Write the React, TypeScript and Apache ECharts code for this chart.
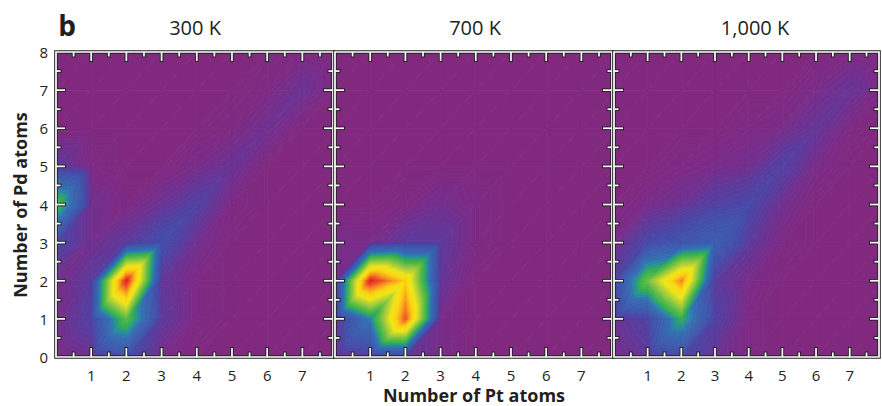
import React, { useEffect, useRef } from 'react';
import * as echarts from 'echarts';

// ---- data -------------------------------------------------------------
const PANEL_TITLES = ['300 K', '700 K', '1,000 K'];
const X_TICK_LABELS = ['1', '2', '3', '4', '5', '6', '7'];
const Y_TICK_LABELS = ['0', '1', '2', '3', '4', '5', '6', '7', '8'];
const X_NAME = 'Number of Pt atoms';
const Y_NAME = 'Number of Pd atoms';
const X_MAX = 7.87;
const Y_MAX = 8;
const X_MAJOR_TICKS = [1, 2, 3, 4, 5, 6, 7];
const X_MINOR_TICKS = [0.5, 1.5, 2.5, 3.5, 4.5, 5.5, 6.5, 7.5];
const Y_MAJOR_TICKS = [1, 2, 3, 4, 5, 6, 7];
const Y_MINOR_TICKS = [0.5, 1.5, 2.5, 3.5, 4.5, 5.5, 6.5, 7.5];

// relative population, rows = number of Pd atoms (0..8), columns = number of Pt atoms (0..8)
const GRID_300K = [
  [0.01, 0.03, 0.12, 0.02, 0.0, 0, 0, 0, 0],
  [0.02, 0.08, 0.45, 0.06, 0.01, 0, 0, 0, 0],
  [0.02, 0.06, 1.0, 0.05, 0.01, 0, 0, 0, 0],
  [0.1, 0.03, 0.06, 0.12, 0.03, 0, 0, 0, 0],
  [0.45, 0.03, 0.01, 0.04, 0.08, 0.01, 0, 0, 0],
  [0.06, 0.01, 0.0, 0.0, 0.02, 0.04, 0.0, 0, 0],
  [0.0, 0, 0, 0, 0, 0.01, 0.035, 0.0, 0],
  [0, 0, 0, 0, 0, 0, 0.01, 0.04, 0.0],
  [0, 0, 0, 0, 0, 0, 0, 0.01, 0],
];
const GRID_700K = [
  [0.02, 0.06, 0.06, 0.02, 0.0, 0, 0, 0, 0],
  [0.04, 0.3, 0.92, 0.02, 0.0, 0, 0, 0, 0],
  [0.02, 1.0, 0.75, 0.05, 0.0, 0, 0, 0, 0],
  [0.02, 0.02, 0.06, 0.06, 0.01, 0, 0, 0, 0],
  [0.0, 0.0, 0.01, 0.03, 0.01, 0, 0, 0, 0],
  [0, 0, 0, 0, 0, 0, 0, 0, 0],
  [0, 0, 0, 0, 0, 0, 0, 0, 0],
  [0, 0, 0, 0, 0, 0, 0, 0, 0],
  [0, 0, 0, 0, 0, 0, 0, 0, 0],
];
const GRID_1000K = [
  [0.02, 0.05, 0.1, 0.04, 0.01, 0, 0, 0, 0],
  [0.04, 0.08, 0.39, 0.08, 0.01, 0, 0, 0, 0],
  [0.08, 0.48, 0.86, 0.06, 0.02, 0, 0, 0, 0],
  [0.02, 0.1, 0.15, 0.2, 0.06, 0.01, 0, 0, 0],
  [0.0, 0.02, 0.04, 0.08, 0.1, 0.03, 0.0, 0, 0],
  [0, 0, 0.01, 0.02, 0.03, 0.08, 0.02, 0.0, 0],
  [0, 0, 0, 0, 0.01, 0.02, 0.05, 0.01, 0.0],
  [0, 0, 0, 0, 0, 0.0, 0.02, 0.045, 0.01],
  [0, 0, 0, 0, 0, 0, 0.0, 0.01, 0.0],
];
const PANEL_GRIDS = [GRID_300K, GRID_700K, GRID_1000K];

// colour scale: [value, colour]
const COLOR_STOPS: [number, string][] = [
  [0.0, '#80297f'],
  [0.015, '#7b2b86'],
  [0.035, '#6e3190'],
  [0.06, '#5c3a9c'],
  [0.1, '#4848a6'],
  [0.15, '#3f55ab'],
  [0.22, '#3a61af'],
  [0.28, '#336fb3'],
  [0.33, '#278f9c'],
  [0.38, '#30ad50'],
  [0.45, '#58ba46'],
  [0.55, '#a5cc3a'],
  [0.66, '#efe616'],
  [0.75, '#fcd50f'],
  [0.83, '#f8a01c'],
  [0.92, '#ee5424'],
  [1.0, '#e31e24'],
];

// ---- layout ------------------------------------------------------------
const GRID_LEFTS = [56, 335, 614];
const GRID_TOP = 52;
const GRID_W = 277;
const GRID_H = 305;
const FONT = '"Open Sans", "Noto Sans", sans-serif';
const TEXT = '#231f20';
const DARK = '#222222';

// ---- helpers -----------------------------------------------------------
function hexToRgb(h: string) {
  const n = parseInt(h.slice(1), 16);
  return [(n >> 16) & 255, (n >> 8) & 255, n & 255];
}
function colorAt(v: number) {
  if (v <= COLOR_STOPS[0][0]) return COLOR_STOPS[0][1];
  for (let k = 1; k < COLOR_STOPS.length; k++) {
    const [v1, c1] = COLOR_STOPS[k];
    if (v <= v1) {
      const [v0, c0] = COLOR_STOPS[k - 1];
      const s = (v - v0) / (v1 - v0);
      const a = hexToRgb(c0), b = hexToRgb(c1);
      const r = a.map((x, i) => Math.round(x + s * (b[i] - x)));
      return `rgb(${r[0]},${r[1]},${r[2]})`;
    }
  }
  return COLOR_STOPS[COLOR_STOPS.length - 1][1];
}

const N_LEVELS = 64;
const LEVELS: number[] = [];
for (let k = 0; k <= N_LEVELS; k++) LEVELS.push(Math.pow(k / N_LEVELS, 1.7));
const BAND_COLORS = LEVELS.map((lo, k) =>
  k + 1 < LEVELS.length ? colorAt((lo + LEVELS[k + 1]) / 2) : colorAt(lo)
);

type P = { x: number; y: number; v: number };
function clip(poly: P[], t: number, keepAbove: boolean): P[] {
  const out: P[] = [];
  const inside = (p: P) => (keepAbove ? p.v >= t : p.v <= t);
  for (let n = 0; n < poly.length; n++) {
    const a = poly[n], b = poly[(n + 1) % poly.length];
    const ia = inside(a), ib = inside(b);
    if (ia) out.push(a);
    if (ia !== ib) {
      const s = (t - a.v) / (b.v - a.v);
      out.push({ x: a.x + s * (b.x - a.x), y: a.y + s * (b.y - a.y), v: t });
    }
  }
  return out;
}

function makeRenderItem(grid: number[][]) {
  return (params: any, api: any) => {
    const i = api.value(0) as number;
    const j = api.value(1) as number;
    const corner = (a: number, b: number): P => {
      const p = api.coord([a, b]);
      return { x: p[0], y: p[1], v: grid[b][a] };
    };
    const c00 = corner(i, j), c10 = corner(i + 1, j), c11 = corner(i + 1, j + 1), c01 = corner(i, j + 1);
    const tris = [[c00, c10, c11], [c00, c01, c11]];
    const children: any[] = [];
    for (const tri of tris) {
      const vs = tri.map((p) => p.v);
      const vmin = Math.min(...vs), vmax = Math.max(...vs);
      for (let k = 0; k < LEVELS.length; k++) {
        const lo = LEVELS[k];
        const hi = k + 1 < LEVELS.length ? LEVELS[k + 1] : Infinity;
        if (hi <= vmin) continue;
        if (lo > vmax) break;
        let poly = clip(tri, lo, true);
        if (hi !== Infinity) poly = clip(poly, hi, false);
        if (poly.length < 3) continue;
        const col = BAND_COLORS[k];
        children.push({
          type: 'polygon',
          shape: { points: poly.map((p) => [p.x, p.y]) },
          style: { fill: col, stroke: col, lineWidth: 0.8 },
        });
      }
    }
    return { type: 'group', children };
  };
}

// frame + inward ticks, positioned through the axes' scales
function renderFrame(params: any, api: any) {
  const [x0, y0] = api.coord([0, 0]);
  const [x1, y1] = api.coord([X_MAX, Y_MAX]);
  const els: any[] = [];
  const ln = (ax: number, ay: number, bx: number, by: number, c: string, w: number) => ({
    type: 'line',
    shape: { x1: ax, y1: ay, x2: bx, y2: by },
    style: { stroke: c, lineWidth: w },
  });
  const passes = [
    { c: DARK, w: 3.6, maj: 10, min: 5.5 },
    { c: '#ffffff', w: 1.7, maj: 9, min: 4.5 },
  ];
  for (const ps of passes) {
    els.push({
      type: 'rect',
      shape: { x: x0, y: y1, width: x1 - x0, height: y0 - y1 },
      style: { fill: 'none', stroke: ps.c, lineWidth: ps.w },
    });
    const addX = (vals: number[], len: number) => {
      for (const v of vals) {
        if (v > X_MAX) continue;
        const x = api.coord([v, 0])[0];
        els.push(ln(x, y0, x, y0 - len, ps.c, ps.w));
        els.push(ln(x, y1, x, y1 + len, ps.c, ps.w));
      }
    };
    const addY = (vals: number[], len: number) => {
      for (const v of vals) {
        const y = api.coord([0, v])[1];
        els.push(ln(x0, y, x0 + len, y, ps.c, ps.w));
        els.push(ln(x1, y, x1 - len, y, ps.c, ps.w));
      }
    };
    addX(X_MAJOR_TICKS, ps.maj);
    addX(X_MINOR_TICKS, ps.min);
    addY(Y_MAJOR_TICKS, ps.maj);
    addY(Y_MINOR_TICKS, ps.min);
  }
  return { type: 'group', children: els };
}

const CELLS: number[][] = [];
for (let j = 0; j < 8; j++) for (let i = 0; i < 8; i++) CELLS.push([i, j]);

export default function App() {
  const ref = useRef<HTMLDivElement>(null);
  useEffect(() => {
    document.body.style.margin = '0';
    if (!ref.current) return;
    const chart = echarts.init(ref.current, undefined, { renderer: 'svg' });

    const grids: any[] = [];
    const xAxes: any[] = [];
    const yAxes: any[] = [];
    const series: any[] = [];

    PANEL_GRIDS.forEach((grid, p) => {
      grids.push({ left: GRID_LEFTS[p], top: GRID_TOP, width: GRID_W, height: GRID_H, containLabel: false });
      xAxes.push({
        type: 'value',
        gridIndex: p,
        position: 'bottom',
        min: 0,
        max: X_MAX,
        interval: 1,
        axisLine: { show: false, onZero: false },
        axisTick: { show: false },
        splitLine: { show: false },
        axisLabel: {
          show: true,
          color: TEXT,
          fontSize: 15,
          fontFamily: FONT,
          margin: 10,
          formatter: (v: number) => (X_TICK_LABELS.includes(String(v)) ? String(v) : ''),
        },
      });
      yAxes.push({
        type: 'value',
        gridIndex: p,
        position: 'left',
        min: 0,
        max: Y_MAX,
        interval: 1,
        axisLine: { show: false, onZero: false },
        axisTick: { show: false },
        splitLine: { show: false },
        axisLabel: {
          show: p === 0,
          color: TEXT,
          fontSize: 15,
          fontFamily: FONT,
          margin: 8,
          formatter: (v: number) => (Y_TICK_LABELS.includes(String(v)) ? String(v) : ''),
        },
      });
      series.push({
        type: 'custom',
        coordinateSystem: 'cartesian2d',
        xAxisIndex: p,
        yAxisIndex: p,
        clip: true,
        z: 1,
        data: CELLS,
        renderItem: makeRenderItem(grid),
      });
      series.push({
        type: 'custom',
        coordinateSystem: 'cartesian2d',
        xAxisIndex: p,
        yAxisIndex: p,
        clip: false,
        z: 50,
        data: [[1, 1]],
        renderItem: renderFrame,
      });
    });

    const titleCenters = [195, 475, 755];
    const center = { align: 'center', verticalAlign: 'middle', textAlign: 'center', textVerticalAlign: 'middle' };
    const graphic: any[] = [
      {
        type: 'text',
        x: 67,
        y: 25,
        style: { text: 'b', fontSize: 28, fontWeight: 'bold', fontFamily: FONT, fill: TEXT, ...center },
      },
      ...PANEL_TITLES.map((t, p) => ({
        type: 'text',
        x: titleCenters[p],
        y: 27,
        style: { text: t, fontSize: 20, fontFamily: FONT, fill: TEXT, ...center },
      })),
      {
        type: 'text',
        x: 474,
        y: 395,
        style: { text: X_NAME, fontSize: 18, lineHeight: 18, fontWeight: 'bold', fontFamily: FONT, fill: TEXT, ...center },
      },
      {
        type: 'text',
        x: 20,
        y: 205,
        rotation: Math.PI / 2,
        style: { text: Y_NAME, fontSize: 18, lineHeight: 18, fontWeight: 'bold', fontFamily: FONT, fill: TEXT, ...center },
      },
    ];

    chart.setOption({
      animation: false,
      backgroundColor: '#ffffff',
      grid: grids,
      xAxis: xAxes,
      yAxis: yAxes,
      series,
      graphic,
    });
    return () => chart.dispose();
  }, []);
  return <div ref={ref} style={{ width: 882, height: 406 }} />;
}
